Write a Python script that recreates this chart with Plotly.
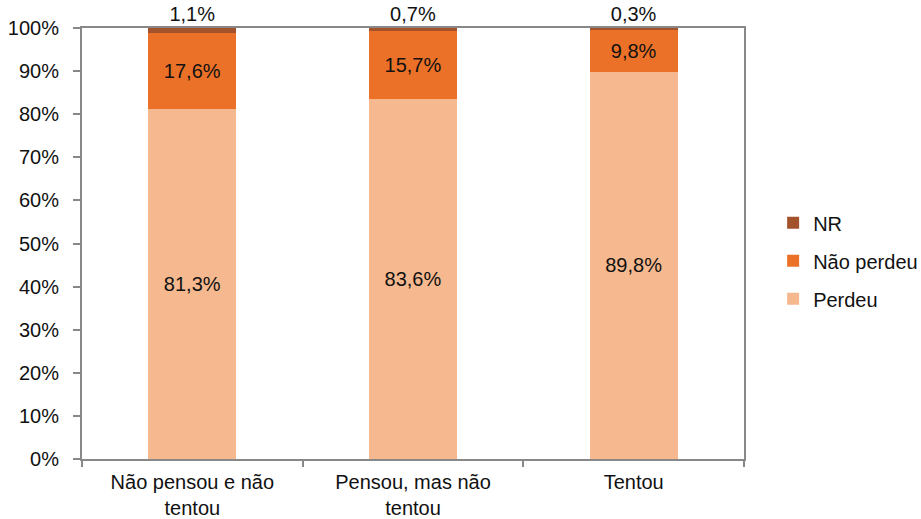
import plotly.graph_objects as go

categories = ["Não pensou e não<br>tentou", "Pensou, mas não<br>tentou", "Tentou"]
perdeu = [81.3, 83.6, 89.8]
nao_perdeu = [17.6, 15.7, 9.8]
nr = [1.1, 0.7, 0.3]

# (name, values, colour, label position, legend rank)
series = [
    ("Perdeu", perdeu, "#F6B98F", "inside", 3),
    ("Não perdeu", nao_perdeu, "#EC7128", "inside", 2),
    ("NR", nr, "#A3532B", "outside", 1),
]

font_family = "Liberation Sans, Arial, sans-serif"

fig = go.Figure()
for name, vals, color, pos, rank in series:
    fig.add_trace(go.Bar(
        name=name,
        legendgroup=name,
        legendrank=rank,
        x=categories,
        y=vals,
        marker=dict(color=color, line=dict(width=0)),
        text=[f"{v:.1f}%".replace(".", ",") for v in vals],
        textposition=pos,
        insidetextanchor="middle",
        textangle=0,
        constraintext="none",
        cliponaxis=False,
        textfont=dict(family=font_family, size=20, color="#111111"),
        hoverinfo="skip",
    ))

fig.update_layout(
    barmode="stack",
    bargap=0.6,
    width=921,
    height=519,
    margin=dict(l=82, r=177, t=28, b=60, autoexpand=False),
    plot_bgcolor="white",
    paper_bgcolor="white",
    font=dict(family=font_family, size=20, color="#111111"),
    legend=dict(
        x=1.044, y=0.46, xanchor="left", yanchor="middle",
        traceorder="grouped",
        font=dict(size=20),
        itemwidth=30,
        tracegroupgap=9,
        bgcolor="rgba(0,0,0,0)",
    ),
    showlegend=True,
)

fig.update_xaxes(
    showline=True, linecolor="#888888", linewidth=2, mirror=True,
    ticks="outside", tickson="boundaries", ticklen=6, tickcolor="#888888", tickwidth=2,
    showgrid=False, tickfont=dict(size=20), ticklabelstandoff=4,
)
fig.update_yaxes(
    range=[0, 100], tickvals=list(range(0, 101, 10)),
    ticktext=[f"{v}%" for v in range(0, 101, 10)],
    showline=True, linecolor="#888888", linewidth=2, mirror=True,
    ticks="outside", ticklen=7, tickcolor="#888888", tickwidth=2,
    showgrid=False, zeroline=False, tickfont=dict(size=20), ticklabelstandoff=10,
)

fig.write_html("out.html")
